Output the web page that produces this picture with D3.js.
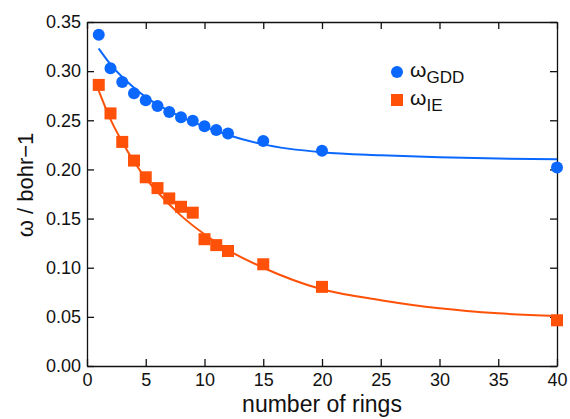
<!DOCTYPE html>
<html>
<head>
<meta charset="utf-8">
<script src="https://d3js.org/d3.v7.min.js"></script>
<style>
  body { margin: 0; background: #fff; }
  svg text { font-family: "Liberation Sans", Arial, Helvetica, sans-serif; fill: #111; }
  .axis path, .axis line { stroke: #111; stroke-width: 1.3; }
</style>
</head>
<body>
<div id="chart"></div>
<script>
// measured points
var rings = [1, 2, 3, 4, 5, 6, 7, 8, 9, 10, 11, 12, 15, 20, 40];
var omegaGDD = [0.337, 0.303, 0.289, 0.2775, 0.2705, 0.2645, 0.2585, 0.253, 0.2495, 0.244, 0.240, 0.2365, 0.229, 0.219, 0.202];
var omegaIE = [0.286, 0.257, 0.228, 0.209, 0.192, 0.181, 0.1705, 0.162, 0.156, 0.129, 0.123, 0.117, 0.1035, 0.0805, 0.0465];

// fitted curves
var fitX = [1, 2, 3, 4, 5, 6, 8, 10, 12, 15, 20, 25, 30, 35, 40];
var fitGDD = [0.323, 0.307, 0.294, 0.283, 0.2735, 0.266, 0.2535, 0.2435, 0.235, 0.2255, 0.2174, 0.2143, 0.2123, 0.2110, 0.2103];
var fitIE = [0.280, 0.251, 0.228, 0.208, 0.191, 0.177, 0.153, 0.134, 0.118, 0.100, 0.078, 0.067, 0.0587, 0.0536, 0.0509];

var xTicks = [0, 5, 10, 15, 20, 25, 30, 35, 40];
var yTicks = [0, 0.05, 0.10, 0.15, 0.20, 0.25, 0.30, 0.35];

var blue = "#0a68ff", orange = "#ff5208";

var W = 570, H = 419;
var margin = {top: 22, right: 13, bottom: 53, left: 87},
    width = W - margin.left - margin.right,
    height = H - margin.top - margin.bottom;

var svg = d3.select("#chart").append("svg")
    .attr("width", W)
    .attr("height", H);

var g = svg.append("g")
    .attr("transform", "translate(" + margin.left + "," + margin.top + ")");

var x = d3.scaleLinear().domain([0, 40]).range([0, width]);
var y = d3.scaleLinear().domain([0, 0.35]).range([height, 0]);

// axes, ticks pointing inward
g.append("g").attr("class", "axis")
  .attr("transform", "translate(0," + height + ")")
  .call(d3.axisBottom(x).tickValues(xTicks).tickSize(-7).tickSizeOuter(0).tickPadding(7))
  .selectAll("text").style("font-size", "18px");

g.append("g").attr("class", "axis")
  .call(d3.axisTop(x).tickValues(xTicks).tickSize(-7).tickSizeOuter(0).tickFormat(""));

g.append("g").attr("class", "axis")
  .call(d3.axisLeft(y).tickValues(yTicks).tickSize(-7).tickSizeOuter(0).tickPadding(6).tickFormat(d3.format(".2f")))
  .selectAll("text").style("font-size", "18px");

g.append("g").attr("class", "axis")
  .attr("transform", "translate(" + width + ",0)")
  .call(d3.axisRight(y).tickValues(yTicks).tickSize(-7).tickSizeOuter(0).tickFormat(""));

g.selectAll(".axis .domain").attr("stroke", "#111");

// fitted lines
var line = d3.line().curve(d3.curveMonotoneX)
  .x(function(d) { return x(d[0]); })
  .y(function(d) { return y(d[1]); });

g.append("path")
  .datum(d3.zip(fitX, fitGDD))
  .attr("d", line)
  .attr("fill", "none").attr("stroke", blue).attr("stroke-width", 2);

g.append("path")
  .datum(d3.zip(fitX, fitIE))
  .attr("d", line)
  .attr("fill", "none").attr("stroke", orange).attr("stroke-width", 2);

// markers
g.selectAll(".gdd")
  .data(d3.zip(rings, omegaGDD))
  .enter().append("circle")
  .attr("cx", function(d) { return x(d[0]); })
  .attr("cy", function(d) { return y(d[1]); })
  .attr("r", 6)
  .attr("fill", blue);

var s = 12;
g.selectAll(".ie")
  .data(d3.zip(rings, omegaIE))
  .enter().append("rect")
  .attr("x", function(d) { return x(d[0]) - s / 2; })
  .attr("y", function(d) { return y(d[1]) - s / 2; })
  .attr("width", s).attr("height", s)
  .attr("fill", orange);

// legend
svg.append("circle").attr("cx", 397).attr("cy", 72).attr("r", 6).attr("fill", blue);
svg.append("rect").attr("x", 391).attr("y", 94).attr("width", 12).attr("height", 12).attr("fill", orange);

var l1 = svg.append("text").attr("x", 410).attr("y", 77).style("font-size", "21px");
l1.append("tspan").text("ω");
l1.append("tspan").attr("dy", 6).style("font-size", "17px").text("GDD");

var l2 = svg.append("text").attr("x", 410).attr("y", 105).style("font-size", "21px");
l2.append("tspan").text("ω");
l2.append("tspan").attr("dy", 6).style("font-size", "17px").text("IE");

// axis titles
svg.append("text")
  .attr("x", margin.left + width / 2)
  .attr("y", 412)
  .attr("text-anchor", "middle")
  .style("font-size", "23px")
  .text("number of rings");

svg.append("text")
  .attr("transform", "translate(33,185)rotate(-90)")
  .attr("text-anchor", "middle")
  .style("font-size", "22px")
  .text("ω / bohr−1");
</script>
</body>
</html>
